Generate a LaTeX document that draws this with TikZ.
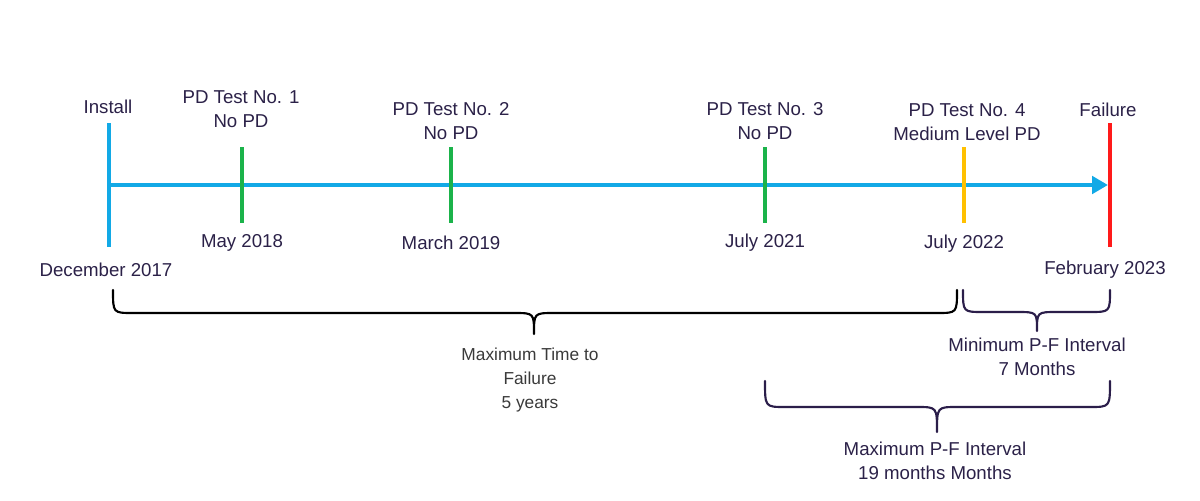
\documentclass[tikz,border=0pt]{standalone}
\usepackage{fontspec}
\setmainfont{Liberation Sans}
\usetikzlibrary{arrows.meta}
\definecolor{txt}{HTML}{2B2148}
\definecolor{gtxt}{HTML}{3A3A3A}
\definecolor{axisblue}{HTML}{12A9E6}
\definecolor{tgreen}{HTML}{1BB34A}
\definecolor{tyellow}{HTML}{FFC000}
\definecolor{tred}{HTML}{FF1A1A}
\definecolor{bracepurple}{HTML}{2B1E4A}
\tikzset{
  lbl/.style={text=txt, font=\fontsize{14}{18}\selectfont, align=center, inner sep=0pt},
  glbl/.style={text=gtxt, font=\fontsize{13}{18}\selectfont, align=center, inner sep=0pt},
  tick/.style={line width=3pt},
  axisline/.style={line width=3pt, draw=axisblue, -{Triangle[length=12pt,width=13pt]}},
  bracepath/.style={line width=1.6pt, line cap=round, line join=round}
}
\newcommand{\curlybrace}[7]{% style, x1, x2, xtip, ytop, ybar, ytip
  \draw[bracepath,#1] (#2,#5) .. controls (#2,#6) .. (#2+20,#6) -- (#4-20,#6)
    .. controls (#4,#6) .. (#4,#7) .. controls (#4,#6) .. (#4+20,#6) -- (#3-20,#6)
    .. controls (#3,#6) .. (#3,#5);}
\begin{document}
\begin{tikzpicture}[x=0.75pt,y=-0.75pt]
\path[use as bounding box] (0,0) rectangle (1200,500);

% axis
\coordinate (start) at (109,185);
\coordinate (end) at (1108,185);
\draw[axisline] (start) -- (end);

% tick coordinates
\coordinate (i1) at (109,123); \coordinate (i2) at (109,247);
\coordinate (a1) at (242,147); \coordinate (a2) at (242,223);
\coordinate (b1) at (451,147); \coordinate (b2) at (451,223);
\coordinate (c1) at (765,147); \coordinate (c2) at (765,223);
\coordinate (d1) at (964,147); \coordinate (d2) at (964,223);
\coordinate (f1) at (1110,123); \coordinate (f2) at (1110,247);

\draw[tick, axisblue] (i1) -- (i2);
\draw[tick, tgreen] (a1) -- (a2);
\draw[tick, tgreen] (b1) -- (b2);
\draw[tick, tgreen] (c1) -- (c2);
\draw[tick, tyellow] (d1) -- (d2);
\draw[tick, tred] (f1) -- (f2);

% top labels
\node[lbl] (install) at (108,107) {Install};
\node[lbl] (t1) at (241,109) {PD Test No. 1\\No PD};
\node[lbl] (t2) at (451,121) {PD Test No. 2\\No PD};
\node[lbl] (t3) at (765,121) {PD Test No. 3\\No PD};
\node[lbl] (t4) at (967,122) {PD Test No. 4\\Medium Level PD};
\node[lbl] (fail) at (1108,110) {Failure};

% date labels
\node[lbl] (dec) at (106,270) {December 2017};
\node[lbl] (may) at (242,243) {May 2018};
\node[lbl] (mar) at (451,243) {March 2019};
\node[lbl] (jul21) at (765,243) {July 2021};
\node[lbl] (jul22) at (964,244) {July 2022};
\node[lbl] (feb) at (1105,270) {February 2023};

% braces
\curlybrace{black}{113}{957}{534}{290}{313}{334}
\curlybrace{bracepurple}{963}{1110}{1037}{290}{312}{331}
\curlybrace{bracepurple}{765}{1110}{937}{381}{407}{432}

% brace labels
\node[glbl] (maxtime) at (530,380) {Maximum Time to\\Failure\\5 years};
\node[lbl] (minpf) at (1037,357) {Minimum P-F Interval\\7 Months};
\node[lbl] (maxpf) at (935,461) {Maximum P-F Interval\\19 months Months};
\end{tikzpicture}
\end{document}
